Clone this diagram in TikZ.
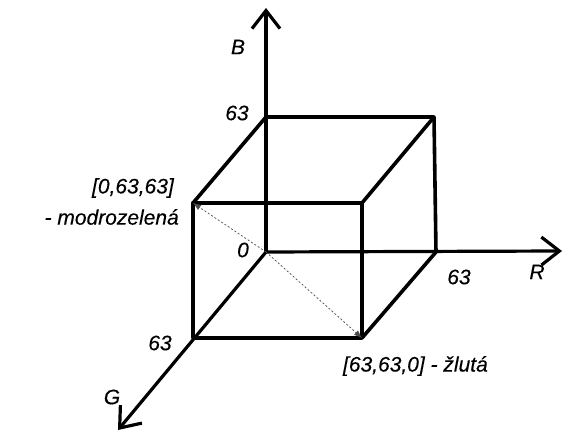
\documentclass[tikz,border=0pt]{standalone}
\usepackage{fontspec}
\setmainfont{Liberation Sans}
\newfontfamily\labfont{Liberation Sans Italic}[FakeBold=0.25]
\usetikzlibrary{arrows.meta}
\begin{document}
\begin{tikzpicture}[x=1pt,y=-1pt,
  edge/.style={line width=3.6pt,line join=round,line cap=round},
  axis/.style={line width=3.2pt,line cap=round,-{Straight Barb[length=18pt,width=28pt,line width=3.2pt]}},
  hid/.style={line width=0.7pt,dash pattern=on 2pt off 2pt,black!70,-{Latex[length=8pt,width=6pt]}},
  lab/.style={inner sep=0pt,font=\fontsize{21}{24}\labfont}]
\useasboundingbox (0,0) rectangle (566,435);
\fill[white] (0,0) rectangle (566,435);
\coordinate (O) at (266,252);
\coordinate (Bc) at (266,117);
\coordinate (Btip) at (266,8);
\coordinate (Rc) at (436,252);
\coordinate (Rtip) at (562,251);
\coordinate (Gc) at (193,338);
\coordinate (Gtip) at (118,430);
\coordinate (RB) at (434,117);
\coordinate (GB) at (193,203);
\coordinate (RG) at (362,338);
\coordinate (RGB) at (362,203);
% axes
\draw[axis] (O) -- (Btip);
\draw[axis] (O) -- (Rtip);
\draw[axis] (O) -- (Gtip);
% cube
\draw[edge] (Bc) -- (RB) -- (Rc);
\draw[edge] (Bc) -- (GB) -- (RGB) -- (RB);
\draw[edge] (GB) -- (Gc) -- (RG) -- (RGB);
\draw[edge] (RG) -- (Rc);
% diagonals
\draw[hid] (O) -- (GB);
\draw[hid] (O) -- (RG);
% labels
\node[lab] (lB) at (238,47) {B};
\node[lab] (lB63) at (237,113) {63};
\node[lab,anchor=east] (lc1) at (174,188) {[0,63,63]};
\node[lab,anchor=east] (lc2) at (179,217) {- modrozelená};
\node[lab] (l0) at (243,250) {0};
\node[lab] (lR63) at (459,277) {63};
\node[lab] (lR) at (537,272) {R};
\node[lab] (lG63) at (160,343) {63};
\node[lab,anchor=east] (ly) at (488,366) {[63,63,0] - žlutá};
\node[lab] (lG) at (112,397) {G};
\end{tikzpicture}
\end{document}
